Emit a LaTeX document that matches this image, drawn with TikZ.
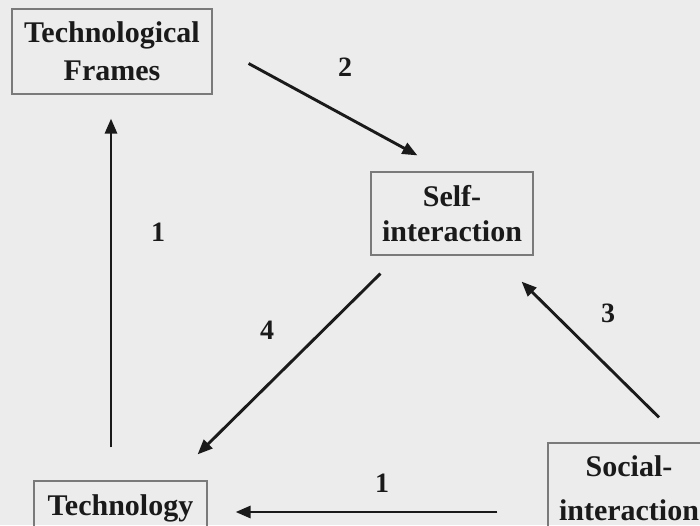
\documentclass[tikz,border=0pt]{standalone}
\usepackage{fontspec}
\setmainfont{Liberation Serif}
\usetikzlibrary{arrows.meta}
\definecolor{bg}{HTML}{ECECEC}
\definecolor{framegray}{HTML}{7A7A7A}
\definecolor{ink}{HTML}{1A1A1A}
\begin{document}
\begin{tikzpicture}[x=1pt,y=-1pt,
  box/.style={draw=framegray,line width=1.2pt,text=ink,
    font=\bfseries\fontsize{30}{36}\selectfont,align=center,inner sep=0pt},
  arr/.style={draw=ink,line width=2.9pt,-{Triangle[length=15pt,width=12pt]}},
  num/.style={text=ink,font=\bfseries\fontsize{28}{28}\selectfont,inner sep=0pt}]
% page background
\fill[bg] (0,0) rectangle (700,525);
\useasboundingbox (0,0) rectangle (700,525);
\clip (0,0) rectangle (700,525);

% concept boxes
\node[box,minimum width=200pt,minimum height=85pt] (tf) at (112,51.5) {Technological\\[2pt]Frames};
\node[box,minimum width=162pt,minimum height=83pt] (self) at (452,213.5) {Self-\\[-1pt]interaction};
\node[box,minimum width=173pt,minimum height=54pt] (tech) at (120.5,508) {Technology};
\node[box,minimum width=162pt,minimum height=90pt] (soc) at (629,488) {Social-\\[8pt]interaction};

% relations between the concepts
\draw[arr] ([shift={(-9.5,-33)}]tech.north) -- ([shift={(-1,24)}]tf.south);
\draw[arr] ([shift={(36,12)}]tf.east) -- ([shift={(47,-16)}]self.north west);
\draw[arr] ([shift={(10,18)}]self.south west) -- ([shift={(-10,-26)}]tech.north east);
\draw[arr] ([shift={(30,-25)}]soc.north) -- ([shift={(-12,26)}]self.south east);
\draw[arr] ([shift={(-50,24)}]soc.west) -- ([shift={(28,4)}]tech.east);

% relation numbers
\node[num] (n1a) at (158,232) {1};
\node[num] (n2) at (345,67) {2};
\node[num] (n3) at (608,313) {3};
\node[num] (n4) at (267,330) {4};
\node[num] (n1b) at (382,483) {1};
\end{tikzpicture}
\end{document}
